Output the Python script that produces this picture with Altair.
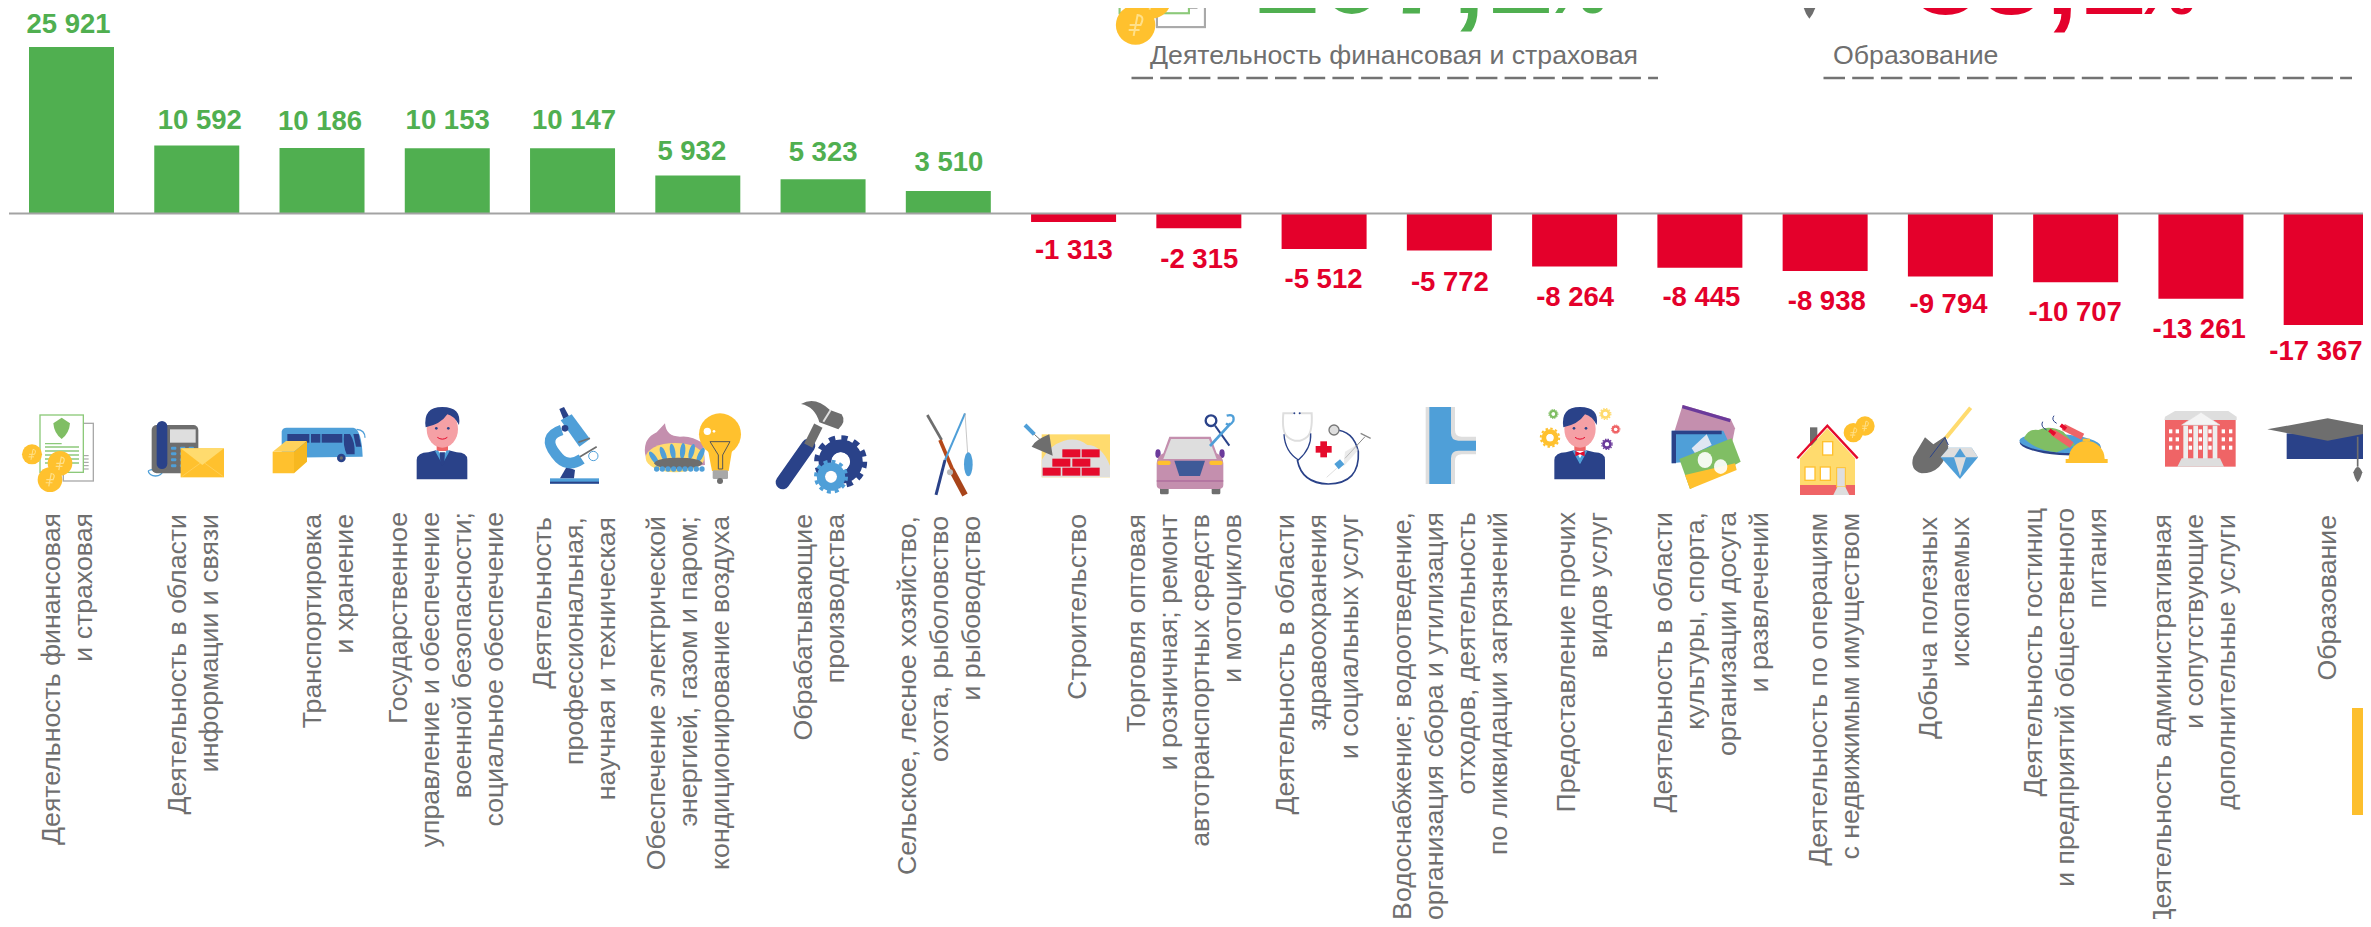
import base64
import altair as alt

# ---------- data ----------
CATEGORIES = [
    "Деятельность финансовая\nи страховая",
    "Деятельность в области\nинформации и связи",
    "Транспортировка\nи хранение",
    "Государственное\nуправление и обеспечение\nвоенной безопасности;\nсоциальное обеспечение",
    "Деятельность\nпрофессиональная,\nнаучная и техническая",
    "Обеспечение электрической\nэнергией, газом и паром;\nкондиционирование воздуха",
    "Обрабатывающие\nпроизводства",
    "Сельское, лесное хозяйство,\nохота, рыболовство\nи рыбоводство",
    "Строительство",
    "Торговля оптовая\nи розничная; ремонт\nавтотранспортных средств\nи мотоциклов",
    "Деятельность в области\nздравоохранения\nи социальных услуг",
    "Водоснабжение; водоотведение,\nорганизация сбора и утилизация\nотходов, деятельность\nпо ликвидации загрязнений",
    "Предоставление прочих\nвидов услуг",
    "Деятельность в области\nкультуры, спорта,\nорганизации досуга\nи развлечений",
    "Деятельность по операциям\nс недвижимым имуществом",
    "Добыча полезных\nископаемых",
    "Деятельность гостиниц\nи предприятий общественного\nпитания",
    "Деятельность административная\nи сопутствующие\nдополнительные услуги",
    "Образование",
]
VALUES = [25921, 10592, 10186, 10153, 10147, 5932, 5323, 3510, -1313, -2315,
          -5512, -5772, -8264, -8445, -8938, -9794, -10707, -13261, -17367]
VALUE_TEXT = ["25 921", "10 592", "10 186", "10 153", "10 147", "5 932", "5 323", "3 510",
              "-1 313", "-2 315", "-5 512", "-5 772", "-8 264", "-8 445", "-8 938", "-9 794",
              "-10 707", "-13 261", "-17 367"]
HEAD_GREEN = ["107,1", "%", "Деятельность финансовая и страховая"]
HEAD_RED = ["85,1", "%", "Образование"]

# ---------- layout tweaks (not data) ----------
VALUE_DX = [-3, 3, -2, 0.4, 1.5, -6, 0, 0.6, 0.3, 0.4, -0.6, 0.5, 0.5, 1.5, 1.6, -1.9, -0.4, -1.8, -10.3]
VALUE_DY = [-22, -24.5, -26, -27, -27, -23, -26, -28, 29, 31.5, 31, 32, 31, 30, 31, 29, 31, 31, 27]
LABEL_DX = [-4, -2.9, 7.3, -0.6, 2, -8.8, -3.2, -8, 4.1, -13.7, -6.6, 1.5, 8.7, 11.8, 10, -5.4, -9.8, -5.6, 1.5]
LABEL_TOP = [513, 514, 514, 512, 517, 516, 514, 516, 514, 514, 514, 512, 512, 512, 513, 517, 508, 514, 515]
LINE_H = 32
W, H = 2355, 911
OX = 8
STEP = 125.26
C0 = 71.5
GREEN, RED, GRAY = "#50AF50", "#E4002B", "#6F6F6F"
FONT = "Liberation Sans"

# ---------- icons (small pictures) ----------
Y, B, N, G, LG, GR, R, S, P, LY, SK = ("#FFC12E", "#4F9FD8", "#2A4289", "#6E6E6E", "#DEDEDE",
                                       "#80BE64", "#E50B2C", "#EF6466", "#C48FAE", "#FFDB6E", "#F5A0A5")


def gear(cx, cy, r, c, hole="#fff"):
    circ = 2 * 3.1416 * r * 0.92
    return (f'<circle cx="{cx}" cy="{cy}" r="{r*0.92}" fill="none" stroke="{c}" stroke-width="{r*0.2}" '
            f'stroke-dasharray="{circ/24} {circ/24}"/>'
            f'<circle cx="{cx}" cy="{cy}" r="{r*0.6}" fill="none" stroke="{c}" stroke-width="{r*0.5}"/>'
            f'<circle cx="{cx}" cy="{cy}" r="{r*0.36}" fill="{hole}"/>')


def coin(cx, cy, r):
    return (f'<circle cx="{cx}" cy="{cy}" r="{r}" fill="{Y}"/>'
            f'<path d="M{cx-r*.1} {cy+r*.55} L{cx+r*.1} {cy-r*.5} Q{cx+r*.5} {cy-r*.45} {cx+r*.25} {cy} L{cx-r*.3} {cy} M{cx-r*.35} {cy+r*.25} L{cx+r*.2} {cy+r*.25}" '
            f'fill="none" stroke="#FFE08A" stroke-width="{r*.1}"/>')


def person(dx, dy, sc, bow=False):
    tie = (f'<path d="M-14 -4 L0 2 L14 -4 L14 12 L0 6 L-14 12Z" fill="{R}" transform="translate(1327 172)"/>'
           if bow else
           f'<path d="M1319 172 L1335 172 L1333 205 L1327 212 L1321 205Z" fill="{N}"/>')
    return (f'<g transform="translate({dx} {dy}) scale({sc})">'
            f'<rect x="1310" y="140" width="34" height="28" fill="{S}"/>'
            f'<ellipse cx="1327" cy="102" rx="47" ry="56" fill="{SK}"/>'
            f'<path d="M1277 97 Q1268 36 1327 36 Q1386 36 1377 90 Q1362 62 1342 58 Q1322 88 1277 97Z" fill="{N}"/>'
            f'<circle cx="1309" cy="100" r="4" fill="{N}"/><circle cx="1345" cy="100" r="4" fill="{N}"/>'
            f'<path d="M1312 127 Q1327 138 1342 127" fill="none" stroke="{R}" stroke-width="3"/>'
            f'<path d="M1250 253 L1250 195 Q1252 172 1285 172 L1308 166 L1327 205 L1346 166 L1370 172 Q1402 172 1402 195 L1402 253Z" fill="{N}"/>'
            f'<path d="M1305 168 L1327 208 L1349 168 L1340 166 L1327 190 L1314 166Z" fill="{B}"/>'
            f'{tie}</g>')


def doc_icon():
    lines = "".join(f'<path d="M135 {y}H237" stroke="#8CC97A" stroke-width="4"/>' for y in (156, 168, 180, 192, 204))
    gl = "".join(f'<path d="M250 {y}H266" stroke="#999" stroke-width="3"/>' for y in (182, 192, 202, 212, 222))
    return (f'<rect x="190" y="85" width="90" height="173" fill="#fff" stroke="#A9A9A9" stroke-width="4"/>{gl}'
            f'<rect x="120" y="60" width="130" height="172" fill="#fff" stroke="#8CC97A" stroke-width="4"/>'
            f'<path d="M185 68 L210 85 Q208 115 185 132 Q162 115 160 85Z" fill="{GR}"/>'
            f'<path d="M135 146H185" stroke="#8CC97A" stroke-width="4"/>{lines}'
            + coin(96, 178, 30) + coin(180, 205, 37) + coin(150, 254, 37))


def phone_icon():
    keys = "".join(f'<rect x="{x}" y="{y}" width="16" height="9" rx="3" fill="{B}"/>'
                   for x in (513, 540, 566) for y in (155, 172, 190, 208))
    return (f'<path d="M470 222 Q445 225 445 228 A20 14 0 0 0 488 228" fill="none" stroke="{B}" stroke-width="4"/>'
            f'<rect x="455" y="90" width="140" height="145" rx="15" fill="{G}"/>'
            f'<rect x="510" y="103" width="77" height="40" fill="{LG}"/>{keys}'
            f'<rect x="470" y="78" width="32" height="144" rx="16" fill="{N}"/>'
            f'<rect x="542" y="160" width="130" height="87" fill="{Y}"/>'
            f'<path d="M542 160 H672 L607 210Z" fill="{LY}"/>'
            f'<path d="M545 245 L600 205 M670 245 L615 205" stroke="#FFD76B" stroke-width="2"/>')


def bus_icon():
    return (f'<path d="M860 98 H1060 Q1085 102 1088 185 L845 188 V110 Q847 98 860 98Z" fill="{B}"/>'
            f'<path d="M1070 103 Q1095 105 1095 128" fill="none" stroke="{B}" stroke-width="4"/>'
            f'<rect x="862" y="117" width="66" height="26" fill="{N}"/>'
            f'<rect x="933" y="117" width="28" height="26" fill="{N}"/>'
            f'<rect x="965" y="117" width="62" height="26" fill="{N}"/>'
            f'<path d="M1032 117 H1050 Q1066 140 1064 178 L1040 178 Q1028 150 1032 117Z" fill="{N}"/>'
            f'<path d="M1060 117 L1076 117 L1084 155 L1068 155Z" fill="{N}"/>'
            f'<circle cx="1024" cy="189" r="13" fill="{N}"/><circle cx="1024" cy="189" r="5" fill="{G}"/>'
            f'<path d="M818 170 H882 V235 H818Z" fill="{Y}"/>'
            f'<path d="M818 170 L858 138 H921 L882 170Z" fill="#FFD25C"/>'
            f'<path d="M882 170 L921 138 V200 L882 235Z" fill="#F7B820"/>')


def scope_icon():
    return (f'<rect x="150" y="250" width="147" height="16" fill="{B}"/>'
            f'<rect x="150" y="260" width="147" height="6" fill="{N}"/>'
            f'<path d="M180 250 L200 215 L225 225 L222 250Z" fill="{N}"/>'
            f'<path d="M178 42 L192 36 L207 64 L190 72Z" fill="{N}"/>'
            f'<path d="M182 76 L215 58 L270 132 L238 155Z" fill="{B}"/>'
            f'<path d="M185 105 Q125 125 168 178 Q200 222 245 192" fill="none" stroke="{B}" stroke-width="32"/>'
            f'<circle cx="195" cy="100" r="10" fill="{N}"/>'
            f'<path d="M235 142 L270 130 M240 185 L290 155" stroke="{G}" stroke-width="5"/>'
            f'<circle cx="280" cy="183" r="14" fill="#fff" stroke="{B}" stroke-width="3"/>')


def gas_icon():
    fl = "".join(f'<ellipse cx="{x}" cy="{y}" rx="8" ry="24" fill="{B}" transform="rotate({a} {x} {y})"/>'
                 for x, y, a in ((462, 190, -35), (490, 178, -20), (518, 170, -10), (548, 168, 5), (575, 170, 15), (602, 180, 25)))
    ring = "".join(f'<circle cx="{x}" cy="222" r="8" fill="{B}"/>' for x in range(470, 615, 17))
    return (f'<path d="M435 175 Q430 130 470 112 L495 85 Q498 125 540 125 Q572 120 610 145 L615 210 L470 222 Q438 205 435 175Z" fill="{P}"/>'
            f'<ellipse cx="525" cy="188" rx="88" ry="44" fill="{LY}"/>{fl}'
            f'<ellipse cx="535" cy="205" rx="72" ry="17" fill="{G}"/>{ring}'
            f'<circle cx="660" cy="118" r="63" fill="{Y}"/><path d="M622 155 H698 L686 228 H636Z" fill="{Y}"/>'
            f'<rect x="638" y="226" width="46" height="26" rx="4" fill="#A8A8A8"/><circle cx="660" cy="258" r="9" fill="{G}"/>'
            f'<path d="M630 140 L690 140 L668 180 V222 H655 V180Z" fill="none" stroke="#555" stroke-width="3"/>'
            f'<circle cx="622" cy="109" r="11" fill="#fff"/><circle cx="642" cy="109" r="4" fill="#fff"/>')


def hammer_icon():
    return (f'<path d="M848 262 L925 152" stroke="{N}" stroke-width="42" stroke-linecap="round"/>'
            f'<path d="M925 152 L955 92" stroke="{G}" stroke-width="28"/>'
            f'<path d="M903 27 Q945 2 990 45 L1025 58 Q1040 80 1015 103 L958 82 Q945 35 903 27Z" fill="{G}"/>'
            f'<path d="M970 80 L992 45" stroke="{LG}" stroke-width="6"/>'
            + gear(1022, 200, 78, N) + gear(993, 245, 50, B))


def fish_icon():
    return (f'<path d="M1282 60 L1325 135" stroke="{G}" stroke-width="8"/>'
            f'<path d="M1320 135 L1358 225" stroke="#B5491A" stroke-width="11"/>'
            f'<path d="M1355 225 L1395 300" stroke="#A8441A" stroke-width="18"/>'
            f'<path d="M1395 55 L1335 195" stroke="{B}" stroke-width="6"/>'
            f'<path d="M1335 195 L1308 300" stroke="{N}" stroke-width="9"/>'
            f'<path d="M1395 55 L1403 175" stroke="#aaa" stroke-width="2"/>'
            f'<circle cx="1350" cy="232" r="9" fill="#bbb"/>'
            f'<ellipse cx="1405" cy="208" rx="13" ry="36" fill="{B}"/>')


def brick_icon():
    bricks = [(187, 163), (245, 163), (157, 191), (217, 191), (128, 218), (187, 218), (245, 218)]
    rs = "".join(f'<rect x="{x}" y="{y}" width="54" height="24" fill="{R}"/>' for x, y in bricks)
    return (f'<rect x="125" y="118" width="205" height="129" fill="{LY}"/>'
            f'<path d="M125 195 Q150 150 190 138 Q230 125 262 150 Q305 150 330 212 V247 H125Z" fill="{LG}"/>{rs}'
            f'<path d="M148 118 L158 182 L95 155 Q105 135 148 118Z" fill="{G}"/>'
            f'<path d="M75 90 L103 118" stroke="{B}" stroke-width="12"/><path d="M103 118 L125 138" stroke="{G}" stroke-width="3"/>')


def car_icon():
    return (f'<rect x="480" y="275" width="26" height="23" rx="4" fill="{G}"/><rect x="635" y="275" width="26" height="23" rx="4" fill="{G}"/>'
            f'<ellipse cx="474" cy="176" rx="8" ry="13" fill="#6B3A9B"/><ellipse cx="666" cy="176" rx="8" ry="13" fill="#6B3A9B"/>'
            f'<path d="M470 205 Q470 185 490 175 L508 125 H632 L650 175 Q670 185 670 205 V270 Q670 282 655 282 H485 Q470 282 470 270Z" fill="{P}"/>'
            f'<path d="M513 132 H627 L650 192 H490Z" fill="{LG}"/>'
            f'<rect x="472" y="197" width="40" height="13" rx="6" fill="{Y}"/><rect x="628" y="197" width="40" height="13" rx="6" fill="{Y}"/>'
            f'<path d="M523 197 H615 L600 243 H538Z" fill="#3E5A98"/>'
            f'<path d="M470 258 H670" stroke="#A45F95" stroke-width="3"/>'
            f'<circle cx="633" cy="77" r="16" fill="none" stroke="{N}" stroke-width="7"/>'
            f'<path d="M645 92 L688 152" stroke="{N}" stroke-width="6"/>'
            f'<path d="M692 85 L630 153" stroke="{B}" stroke-width="8"/>'
            f'<path d="M680 62 Q705 55 700 78 Q690 95 678 85" fill="none" stroke="{B}" stroke-width="7"/>')


def steth_icon():
    return (f'<path d="M880 55 H850 Q845 112 862 125 Q892 150 922 125 Q938 110 935 55 H900" fill="none" stroke="{LG}" stroke-width="6"/>'
            f'<circle cx="883" cy="55" r="3" fill="{N}"/><circle cx="899" cy="55" r="3" fill="{N}"/>'
            f'<path d="M852 118 Q855 170 895 195 Q935 160 932 115" fill="none" stroke="{N}" stroke-width="4"/>'
            f'<path d="M892 195 Q905 265 985 267 Q1080 265 1075 170 Q1060 105 1003 105" fill="none" stroke="{N}" stroke-width="5"/>'
            f'<circle cx="1002" cy="105" r="15" fill="{LG}" stroke="#777" stroke-width="4"/>'
            f'<rect x="947" y="153" width="48" height="20" fill="{R}"/><rect x="961" y="139" width="20" height="48" fill="{R}"/>'
            f'<path d="M1095 125 L1035 190" stroke="#888" stroke-width="3"/><path d="M1082 115 L1112 130" stroke="#888" stroke-width="4"/>'
            f'<path d="M1035 170 L1065 152 L1075 165 L1030 215Z" fill="{LG}" opacity=".6"/>'
            f'<path d="M1003 207 L1020 193 L1033 208 L1016 223Z" fill="{B}"/>'
            f'<path d="M1010 220 L980 247" stroke="{LG}" stroke-width="3"/>')


def pipe_icon():
    return (f'<path d="M1277 36 H1365 V105 Q1365 125 1385 125 H1428 V178 H1385 Q1365 178 1365 198 V267 H1277Z" fill="{LG}"/>'
            f'<path d="M1288 36 H1353 V115 Q1353 137 1375 137 H1428 V167 H1375 Q1353 167 1353 190 V267 H1288Z" fill="{B}"/>')


def ticket_icon():
    return (f'<path d="M548 30 L692 72 L705 100 L695 150 L520 120Z" fill="{P}"/>'
            f'<path d="M548 30 L692 72 L690 82 L546 40Z" fill="#6B3A9B"/>'
            f'<path d="M515 107 H670 L690 150 L660 190 L515 205Z" fill="{B}"/>'
            f'<path d="M515 107 H665 V118 H528 V205 H515Z" fill="{N}"/>'
            f'<path d="M575 160 L620 118 L635 150 L585 175Z" fill="#dfe6f2"/>'
            f'<path d="M538 192 L695 130 L722 200 L570 282Z" fill="{GR}"/>'
            f'<path d="M555 240 L705 205 L710 225 L570 282Z" fill="{Y}"/>'
            f'<ellipse cx="615" cy="195" rx="22" ry="24" fill="#fff" opacity=".9"/>'
            f'<ellipse cx="662" cy="215" rx="20" ry="22" fill="#fff" opacity=".9"/>')


def house_icon():
    win = "".join(f'<rect x="{x}" y="{y}" width="30" height="40" fill="#fff" stroke="{Y}" stroke-width="4"/>'
                  for x, y in ((968, 140), (915, 216), (961, 216)))
    return (f'<rect x="930" y="97" width="22" height="55" fill="{G}"/>'
            f'<path d="M900 190 L982 100 L1065 190 V270 H900Z" fill="{LY}"/>'
            f'<path d="M892 190 L982 92 L1073 190" fill="none" stroke="{R}" stroke-width="7"/>'
            f'<rect x="900" y="270" width="165" height="30" fill="{S}"/>{win}'
            f'<rect x="1010" y="218" width="26" height="58" fill="{LG}" stroke="{Y}" stroke-width="3"/>'
            f'<path d="M1000 300 L1012 276 H1036 L1048 300Z" fill="{LG}"/>'
            + coin(1095, 93, 29) + coin(1060, 113, 29))


def shovel_icon():
    return (f'<path d="M1412 38 L1338 128" stroke="{LY}" stroke-width="12"/>'
            f'<path d="M1336 124 L1345 155 Q1330 235 1265 235 Q1228 225 1240 185 L1275 127 L1300 148Z" fill="{G}"/>'
            f'<path d="M1290 187 L1335 128 L1345 150" fill="none" stroke="{N}" stroke-width="3"/>'
            f'<path d="M1347 158 H1415 L1434 187 L1380 252 L1322 187Z" fill="{B}"/>'
            f'<path d="M1347 158 H1415 L1434 187 H1322Z" fill="{LG}"/>'
            f'<path d="M1362 187 L1380 160 L1398 187Z" fill="{B}"/>'
            f'<path d="M1362 187 H1398 L1380 244Z" fill="{LG}"/>')


def food_icon():
    return (f'<ellipse cx="480" cy="150" rx="122" ry="30" fill="{N}" transform="rotate(4 480 158)"/>'
            f'<ellipse cx="480" cy="145" rx="122" ry="28" fill="{B}" transform="rotate(4 480 145)"/>'
            f'<path d="M372 130 Q385 100 415 105 Q450 90 490 110 L525 150 L470 172 Q405 165 372 130Z" fill="{GR}"/>'
            f'<path d="M458 112 L515 150" stroke="{S}" stroke-width="20"/>'
            f'<path d="M490 96 L548 125" stroke="{S}" stroke-width="20"/>'
            f'<path d="M448 105 L465 118 M482 90 L498 102" stroke="{R}" stroke-width="12"/>'
            f'<path d="M440 105 Q420 95 428 80 M470 85 Q452 75 462 62" fill="none" stroke="{N}" stroke-width="3"/>'
            f'<path d="M506 192 A54 54 0 0 1 614 192Z" fill="{Y}"/>'
            f'<rect x="497" y="192" width="126" height="12" fill="{Y}"/><rect x="548" y="131" width="22" height="7" fill="{Y}"/>')


def building_icon():
    win = "".join(f'<rect x="{x}" y="{y}" width="10" height="12" fill="#fff"/>'
                  for x in (807, 827, 965, 987, 866, 896, 925) for y in (103, 127, 152))
    col = "".join(f'<rect x="{x}" y="92" width="14" height="100" fill="#EEE"/>' for x in (850, 880, 909, 938))
    return (f'<rect x="795" y="70" width="212" height="145" fill="{S}"/>'
            f'<path d="M795 65 L825 48 H985 L1010 65V75H793Z" fill="{LG}"/>{win}{col}'
            f'<path d="M845 90 L903 52 L960 90Z" fill="#F4F4F4" stroke="{LG}" stroke-width="2"/>'
            f'<path d="M845 190 H960 L972 215 H832Z" fill="{LG}"/>')


def cap_icon():
    return (f'<rect x="1160" y="115" width="247" height="77" fill="{N}"/>'
            f'<path d="M1102 103 L1283 70 L1460 103 L1283 137Z" fill="{G}"/>'
            f'<path d="M1373 125 V215" stroke="{G}" stroke-width="5"/>'
            f'<path d="M1360 232 Q1373 200 1387 232 Q1382 252 1373 262 Q1364 252 1360 232Z" fill="{G}"/>')


ICONS = [(0, doc_icon), (0, phone_icon), (0, bus_icon),
         (0, lambda: person(0, 0, 1)),
         (500, scope_icon), (500, gas_icon), (500, hammer_icon), (500, fish_icon),
         (1000, brick_icon), (1000, car_icon), (1000, steth_icon), (1000, pipe_icon),
         (1500, lambda: person(-1087, 0, 1, bow=True) + gear(150, 128, 30, Y) + gear(160, 57, 15, GR) + gear(316, 57, 18, LY)
          + gear(347, 103, 14, S) + gear(321, 148, 17, "#6B3A9B")),
         (1500, ticket_icon), (1500, house_icon), (1500, shovel_icon),
         (1900, food_icon), (1900, building_icon), (1900, cap_icon)]
BOX_W, BOX_H = 125.26, 110
BOX_CY = 445


def icon_url(i):
    crop, fn = ICONS[i]
    cx = C0 + i * STEP
    svg = (f'<svg xmlns="http://www.w3.org/2000/svg" width="{BOX_W}" height="{BOX_H}" '
           f'viewBox="{cx-BOX_W/2} {BOX_CY-BOX_H/2} {BOX_W} {BOX_H}">'
           f'<g transform="translate({crop} 395) scale({1/3})">{fn()}</g></svg>')
    return "data:image/svg+xml;base64," + base64.b64encode(svg.encode()).decode()


# ---------- scales ----------
keys = [c.replace("\n", " ") for c in CATEGORIES]
x_scale = alt.Scale(domain=[0, len(keys) - 1], range=[C0 - OX, C0 - OX + STEP * (len(keys) - 1)],
                    nice=False, zero=False, padding=0)
PX = 0.00642
BASE = 213.5 - OX
y_scale = alt.Scale(domain=[-(H - BASE) / PX, BASE / PX], nice=False, zero=False, padding=0)
X = alt.X("i:Q", scale=x_scale, axis=None)
Yy = alt.Y("val:Q", scale=y_scale, axis=None)

bars_df = alt.Data(values=[{"i": i, "cat": k, "val": v, "sign": "pos" if v > 0 else "neg"}
                           for i, (k, v) in enumerate(zip(keys, VALUES))])
bars = alt.Chart(bars_df).mark_bar(size=85, orient="vertical").encode(
    x=X, y=Yy, y2=alt.datum(0),
    color=alt.Color("sign:N", scale=alt.Scale(domain=["pos", "neg"], range=[GREEN, RED]), legend=None),
)
axis_line = alt.Chart(alt.Data(values=[{"a": 0}])).mark_rule(color="#A3A3A3", strokeWidth=2).encode(
    x=alt.value(1), x2=alt.value(W), y=alt.Y("a:Q", scale=y_scale, axis=None))

layers = [bars, axis_line]

# value labels
for i, (v, t, dx, dy) in enumerate(zip(VALUES, VALUE_TEXT, VALUE_DX, VALUE_DY)):
    layers.append(
        alt.Chart(alt.Data(values=[{"i": i, "val": v, "t": t}])).mark_text(
            font=FONT, fontWeight="bold", fontSize=27.5, color=GREEN if v > 0 else RED,
            dx=dx, dy=dy, baseline="middle", align="center",
        ).encode(x=X, y=Yy, text="t:N"))

# category labels: dy turns with the text, so at 270 degrees it moves the block sideways on the page
for i, (cat, dx, top) in enumerate(zip(CATEGORIES, LABEL_DX, LABEL_TOP)):
    n_lines = cat.count("\n") + 1
    layers.append(
        alt.Chart(alt.Data(values=[{"i": i, "t": cat}])).mark_text(
            font=FONT, fontSize=26.7, color=GRAY, angle=270, align="right", baseline="middle",
            lineBreak="\n", lineHeight=LINE_H, dy=dx - (n_lines - 1) * LINE_H / 2,
        ).encode(x=X, y=alt.value(top - OX), text="t:N"))

# icons
layers.append(
    alt.Chart(alt.Data(values=[{"i": i, "u": icon_url(i)} for i in range(len(keys))])).mark_image(
        width=BOX_W, height=BOX_H
    ).encode(x=X, y=alt.value(BOX_CY - OX), url="u:N"))

# head block: enlarged icons cut by the top edge
HEAD_SC = 1.6
big_doc = alt.Chart(alt.Data(values=[{"u": icon_url(0)}])).mark_image(width=BOX_W * HEAD_SC, height=BOX_H * HEAD_SC).encode(
    x=alt.value(1170 - OX), y=alt.value(-30.5 - OX), url="u:N")
big_cap = alt.Chart(alt.Data(values=[{"u": icon_url(18)}])).mark_image(width=BOX_W * HEAD_SC, height=BOX_H * HEAD_SC).encode(
    x=alt.value(1759 - OX), y=alt.value(-41 - OX), url="u:N")
layers += [big_doc, big_cap]


def text_at(t, x, y, size, color, weight="normal", baseline="alphabetic"):
    return alt.Chart(alt.Data(values=[{"t": t}])).mark_text(
        font=FONT, fontSize=size, fontWeight=weight, color=color, align="left", baseline=baseline
    ).encode(x=alt.value(x - OX), y=alt.value(y - OX), text="t:N")


layers += [
    text_at(HEAD_GREEN[0], 1252, 12.5, 120, GREEN, "bold"),
    text_at(HEAD_GREEN[1], 1543, 12.5, 72, GREEN, "bold"),
    text_at(HEAD_GREEN[2], 1150, 63.5, 26.7, GRAY),
    text_at(HEAD_RED[0], 1912, 14, 120, RED, "bold"),
    text_at(HEAD_RED[1], 2132, 14, 72, RED, "bold"),
    text_at(HEAD_RED[2], 1833, 63.5, 26.7, GRAY),
]

# dashed rules and orange tab
for x1, x2 in ((1131.5, 1658), (1823.5, 2352)):
    layers.append(alt.Chart(alt.Data(values=[{"a": 0}])).mark_rule(
        color="#737373", strokeWidth=2.5, strokeDash=[21.5, 7.2]
    ).encode(x=alt.value(x1 - OX), x2=alt.value(x2 - OX), y=alt.value(78 - OX)))
layers.append(alt.Chart(alt.Data(values=[{"a": 0}])).mark_rect(color="#FDBF2D").encode(
    x=alt.value(2352 - OX), x2=alt.value(W), y=alt.value(708 - OX), y2=alt.value(815 - OX)))

chart = alt.layer(*layers).properties(
    width=W, height=H, padding=0, background="#FFFFFF",
    autosize=alt.AutoSizeParams(type="none"),
).configure_view(stroke=None)

chart.save("out.html", embed_options={"renderer": "svg", "actions": False})
